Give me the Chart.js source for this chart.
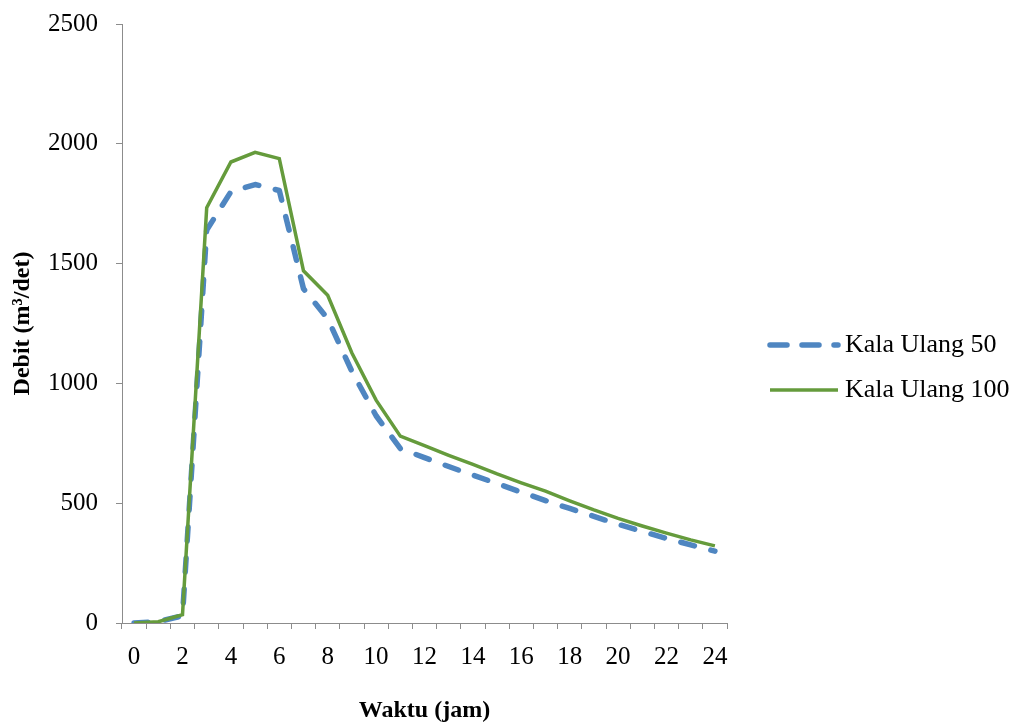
<!DOCTYPE html>
<html>
<head>
<meta charset="utf-8">
<script src="https://cdn.jsdelivr.net/npm/chart.js@4.4.1/dist/chart.umd.min.js"></script>
<style>
  html, body { margin: 0; padding: 0; background: #ffffff; }
  #wrap { width: 1019px; height: 727px; }
</style>
</head>
<body>
<div id="wrap"><canvas id="hidrograf" width="1019" height="727"></canvas></div>
<script>
// Jam (0 - 24)
const hours = ['0','1','2','3','4','5','6','7','8','9','10','11','12','13','14','15','16','17','18','19','20','21','22','23','24'];

// Debit banjir rencana (m3/det)
const kalaUlang50 = [0, 6, 30, 1640, 1800, 1830, 1805, 1395, 1270, 1050, 865, 728, 690, 653, 617, 582, 546, 511, 478, 445, 412, 382, 353, 326, 300];
const kalaUlang100 = [0, 5, 35, 1733, 1924, 1964, 1938, 1470, 1368, 1127, 930, 780, 740, 700, 662, 622, 585, 550, 510, 472, 437, 405, 375, 347, 322];

const yTicks = [0, 500, 1000, 1500, 2000, 2500];
const seriesNames = ['Kala Ulang 50', 'Kala Ulang 100'];

const BLUE = '#4F86C1';
const GREEN = '#659B3C';
const AXIS = '#8c8c8c';
const FONT = "'Liberation Serif', 'Times New Roman', serif";

// Legend drawn beside the plot: line sample + label for each series
const sideLegend = {
  id: 'sideLegend',
  afterDraw(chart) {
    const ctx = chart.ctx;
    const area = chart.chartArea;
    const rows = [
      { name: seriesNames[0], color: BLUE, width: 5.5, dash: [17, 15], y: 345 },
      { name: seriesNames[1], color: GREEN, width: 3.5, dash: [], y: 390 }
    ];
    ctx.save();
    rows.forEach(r => {
      const x1 = area.right + 43;
      const x2 = area.right + 111;
      ctx.beginPath();
      ctx.strokeStyle = r.color;
      ctx.lineWidth = r.width;
      ctx.lineCap = r.dash.length ? 'round' : 'butt';
      ctx.setLineDash(r.dash);
      ctx.moveTo(x1, r.y);
      ctx.lineTo(x2, r.y);
      ctx.stroke();
      ctx.setLineDash([]);
      ctx.fillStyle = '#000000';
      ctx.font = '26px ' + FONT;
      ctx.textBaseline = 'middle';
      ctx.textAlign = 'left';
      ctx.fillText(r.name, area.right + 118, r.y);
    });
    ctx.restore();
  }
};

new Chart(document.getElementById('hidrograf'), {
  type: 'line',
  data: {
    labels: hours,
    datasets: [
      {
        label: seriesNames[0],
        data: kalaUlang50,
        borderColor: BLUE,
        borderWidth: 5.5,
        borderDash: [14, 17],
        borderCapStyle: 'round',
        borderJoinStyle: 'round',
        pointRadius: 0,
        tension: 0,
        fill: false,
        order: 1
      },
      {
        label: seriesNames[1],
        data: kalaUlang100,
        borderColor: GREEN,
        borderWidth: 3.5,
        borderJoinStyle: 'miter',
        pointRadius: 0,
        tension: 0,
        fill: false,
        order: 0
      }
    ]
  },
  options: {
    responsive: false,
    devicePixelRatio: 1,
    animation: false,
    layout: { padding: { left: 0, top: 24, right: 292, bottom: 0 } },
    plugins: {
      legend: { display: false },
      tooltip: { enabled: false }
    },
    scales: {
      x: {
        type: 'category',
        offset: true,
        grid: { display: true, drawOnChartArea: false, offset: true, tickLength: 6, color: AXIS, lineWidth: 1 },
        border: { display: true, color: AXIS, width: 1 },
        ticks: {
          autoSkip: false,
          maxRotation: 0,
          padding: 13,
          color: '#000000',
          font: { family: FONT, size: 25 },
          callback: function (value, index) {
            return index % 2 === 0 ? hours[index] : '';
          }
        },
        title: {
          display: true,
          text: 'Waktu (jam)',
          color: '#000000',
          font: { family: FONT, size: 24, weight: 'bold' },
          padding: { top: 0, bottom: 2 }
        },
        afterFit: function (scale) { scale.height = 104; }
      },
      y: {
        min: yTicks[0],
        max: yTicks[yTicks.length - 1],
        afterBuildTicks: function (scale) { scale.ticks = yTicks.map(v => ({ value: v })); },
        grid: { display: true, drawOnChartArea: false, tickLength: 6, color: AXIS, lineWidth: 1 },
        border: { display: true, color: AXIS, width: 1 },
        ticks: {
          padding: 18,
          color: '#000000',
          font: { family: FONT, size: 25 },
          callback: function (value) { return String(value); }
        },
        title: {
          display: true,
          text: 'Debit (m³/det)',
          color: '#000000',
          font: { family: FONT, size: 24, weight: 'bold' },
          padding: { top: 8, bottom: 0 }
        },
        afterFit: function (scale) {
          scale.width = 122;
          scale.paddingTop = 0;
          scale.paddingBottom = 0;
        }
      }
    }
  },
  plugins: [sideLegend]
});
</script>
</body>
</html>
